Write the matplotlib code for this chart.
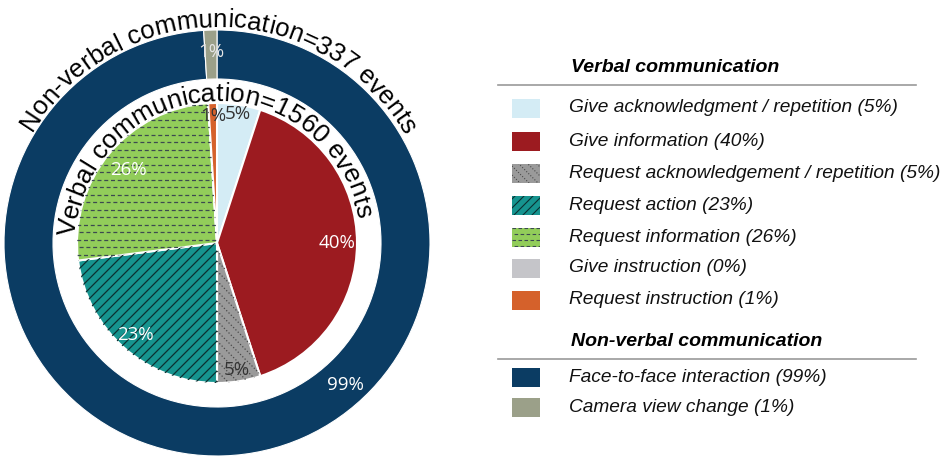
import numpy as np
import matplotlib
matplotlib.use("Agg")
import matplotlib.pyplot as plt
from matplotlib.patches import Rectangle
from matplotlib.lines import Line2D
from matplotlib.font_manager import FontProperties
from matplotlib.textpath import TextToPath

# ---------------- data ----------------
verbal_categories = ["Give acknowledgment / repetition", "Give information",
                     "Request acknowledgement / repetition", "Request action",
                     "Request information", "Give instruction", "Request instruction"]
verbal_values = [5, 40, 5, 23, 26, 0, 1]
verbal_total = 1560

nonverbal_categories = ["Face-to-face interaction", "Camera view change"]
nonverbal_values = [99, 1]
nonverbal_total = 337

# ---------------- style ----------------
verbal_colors = ["#d4ecf5", "#9c1b20", "#9a9a9a", "#16948f", "#92cd5a", "#c5c5c9", "#d5612b"]
verbal_hatch = [None, None, "\\", "/", "-", None, None]
hatch_color = ["", "", "#4a4a4a", "#0b2f30", "#3c4a50", "", ""]
hatch_ls = ["", "", ":", "-", "--", "", ""]
verbal_label_color = ["#333333", "white", "#333333", "white", "white", None, "#333333"]
verbal_label_r = [0.93, 0.86, 0.92, 0.88, 0.82, None, 0.91]
nonverbal_colors = ["#0b3c63", "#9ba089"]
nonverbal_label_color = ["white", "#e6e6e6"]

W, H, DPI = 946, 457, 100
UNIT = 140.0  # pixels per data unit (inner pie radius)
cx_px, cy_px = 217, 243  # pie centre in pixels from top-left
LIM = 1.55

fig = plt.figure(figsize=(W / DPI, H / DPI), dpi=DPI)

# legend axes in pixel coordinates
lax = fig.add_axes([0, 0, 1, 1])
lax.set_xlim(0, W)
lax.set_ylim(H, 0)
lax.axis("off")

ax_w = 2 * LIM * UNIT
ax = fig.add_axes([(cx_px - ax_w / 2) / W, ((H - cy_px) - ax_w / 2) / H, ax_w / W, ax_w / H])


def add_hatch(axis, patch, bbox, kind, step, color, ls, lw=0.8, yflip=False, dash_alt=False):
    x0, y0, x1, y1 = bbox
    w, h = x1 - x0, y1 - y0
    xc, yc = (x0 + x1) / 2, (y0 + y1) / 2
    if kind == "-":
        for i, y in enumerate(np.arange(y0, y1 + step, step)):
            if ls == "--":
                off = 3.5 if (dash_alt and i % 2) else 0
                style = (off, (3.2, 2.2))
            else:
                style = ls
            ln = Line2D([x0, x1], [y, y], color=color, lw=lw, linestyle=style)
            axis.add_line(ln)
            ln.set_clip_path(patch)
    else:
        slope = 1 if kind == "/" else -1
        if yflip:
            slope = -slope
        for c in np.arange(-(w + h), (w + h) + step, step):
            ya = yc + c + slope * (x0 - xc)
            yb = yc + c + slope * (x1 - xc)
            style = (0, (1.0, 1.6)) if ls == ":" else ls
            ln = Line2D([x0, x1], [ya, yb], color=color, lw=lw, linestyle=style)
            axis.add_line(ln)
            ln.set_clip_path(patch)


# ---------------- outer ring ----------------
R_out = 213 / UNIT
ring_w = (213 - 164) / UNIT
owedges, _ = ax.pie(nonverbal_values, radius=R_out, startangle=90, counterclock=False,
                    colors=nonverbal_colors,
                    wedgeprops=dict(width=ring_w, edgecolor="white", linewidth=0.8))
out_label_angle = [-48, None]
for i, wdg in enumerate(owedges):
    ang = out_label_angle[i] if out_label_angle[i] is not None else (wdg.theta1 + wdg.theta2) / 2
    rr = R_out - ring_w / 2 + 0.02
    ax.text(rr * np.cos(np.radians(ang)), rr * np.sin(np.radians(ang)), f"{nonverbal_values[i]}%",
            ha="center", va="center", color=nonverbal_label_color[i], fontsize=13.5,
            family="Open Sans")

# ---------------- inner pie ----------------
wedges, _ = ax.pie(verbal_values, radius=1.0, startangle=90, counterclock=False,
                   colors=verbal_colors,
                   wedgeprops=dict(edgecolor="white", linewidth=1.5))
ax.set_xlim(-LIM, LIM)
ax.set_ylim(-LIM, LIM)
ax.axis("off")

step_pie = 10 / UNIT
for i, wdg in enumerate(wedges):
    if verbal_hatch[i]:
        st = step_pie if verbal_hatch[i] != "-" else 7.5 / UNIT
        add_hatch(ax, wdg, (-1.05, -1.05, 1.05, 1.05), verbal_hatch[i], st,
                  hatch_color[i], hatch_ls[i], lw=0.9, dash_alt=True)
for i, wdg in enumerate(wedges):
    if verbal_values[i] == 0:
        continue
    ang = np.radians((wdg.theta1 + wdg.theta2) / 2)
    rr = verbal_label_r[i]
    ax.text(rr * np.cos(ang), rr * np.sin(ang), f"{verbal_values[i]}%", ha="center", va="center",
            color=verbal_label_color[i], fontsize=13.5, family="Open Sans", zorder=5)


# ---------------- curved titles ----------------
def curved_text(axis, s, r, center_deg, fontsize, family="Liberation Sans"):
    prop = FontProperties(family=family, size=fontsize)
    ttp = TextToPath()
    cum = [0.0]
    for k in range(1, len(s) + 1):
        cum.append(ttp.get_text_width_height_descent(s[:k], prop, ismath=False)[0])
    cum = np.array(cum) * DPI / 72.0  # pixels
    total = cum[-1]
    span = total / (r * UNIT)
    start = np.radians(center_deg) + span / 2
    for k, ch in enumerate(s):
        mid = (cum[k] + cum[k + 1]) / 2
        th = start - mid / (r * UNIT)
        axis.text(r * np.cos(th), r * np.sin(th), ch, rotation=np.degrees(th) - 90,
                  rotation_mode="anchor", ha="center", va="baseline", fontsize=fontsize,
                  family=family, color="black", zorder=10, clip_on=False)


curved_text(ax, f"Non-verbal communication={nonverbal_total} events", 216 / UNIT, 89.5, 18.6)
curved_text(ax, f"Verbal communication={verbal_total} events", 142 / UNIT, 93.5, 18.8)

# ---------------- legend ----------------
leg_font = "Liberation Sans"
patch_x, patch_w, patch_h = 512, 28, 19
text_x = 569


def legend_block(title, title_y, line_y, cats, vals, colors, hatches, hcolors, hls, ys):
    lax.text(571, title_y, title, fontsize=14, fontweight="bold", fontstyle="italic",
             family=leg_font, va="center", ha="left")
    lax.plot([498, 916], [line_y, line_y], color="#9a9a9a", lw=1.2)
    for k, (c, v) in enumerate(zip(cats, vals)):
        y = ys[k]
        rect = Rectangle((patch_x, y - patch_h / 2), patch_w, patch_h, facecolor=colors[k],
                         edgecolor="none")
        lax.add_patch(rect)
        if hatches[k]:
            st = 9 if hatches[k] != "-" else 6
            add_hatch(lax, rect, (patch_x, y - patch_h / 2, patch_x + patch_w, y + patch_h / 2),
                      hatches[k], st, hcolors[k], hls[k], lw=0.8, yflip=True, dash_alt=True)
        lax.text(text_x, y, f"{c} ({v}%)", fontsize=13.8, fontstyle="italic", family=leg_font,
                 va="center", ha="left", color="#111111")


legend_block("Verbal communication", 67, 85, verbal_categories, verbal_values, verbal_colors,
             verbal_hatch, hatch_color, hatch_ls, [108, 141, 173, 205, 237, 268, 300])
legend_block("Non-verbal communication", 342, 359, nonverbal_categories, nonverbal_values,
             nonverbal_colors, [None, None], ["", ""], ["", ""], [377, 407])

fig.savefig("out.png", dpi=DPI)
